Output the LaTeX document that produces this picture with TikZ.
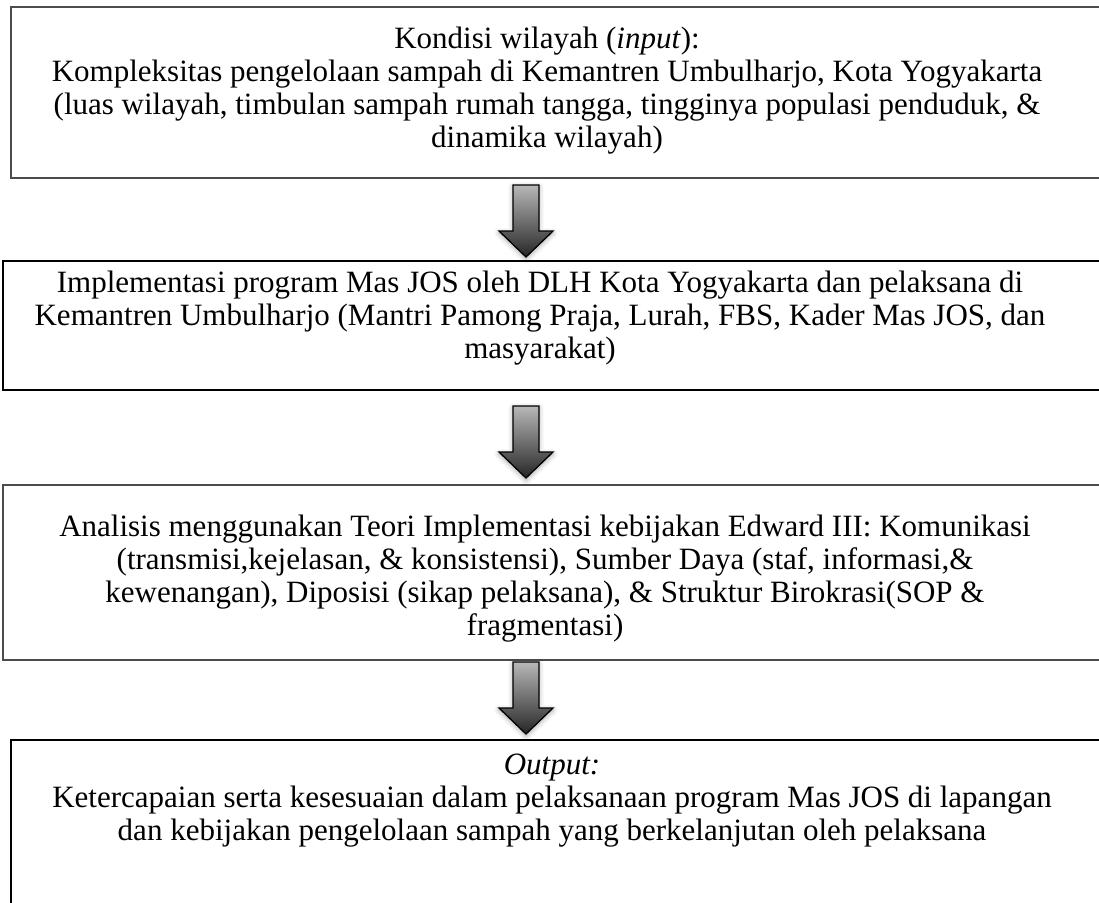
\documentclass[tikz,border=0pt]{standalone}
\usepackage{fontspec}
\setmainfont{Liberation Serif}
\usetikzlibrary{shadows.blur}
\tikzset{
  boxgray/.style={draw=black!70, line width=1.8pt, inner sep=0pt, outer sep=0pt},
  boxblack/.style={draw=black, line width=1.4pt, inner sep=0pt, outer sep=0pt},
  txt/.style={align=center, inner sep=0pt, font=\fontsize{31}{33}\selectfont},
  pics/blockdown/.style={code={
    \path[blur shadow={shadow xshift=0pt, shadow yshift=-2pt, shadow blur radius=5pt, shadow opacity=35},
          draw=black, line width=1.3pt, line join=miter, top color=black!28, bottom color=black!85]
      (-13,0) -- (13,0) -- (13,46) -- (27,46) -- (0,72) -- (-27,46) -- (-13,46) -- cycle;
  }}
}
\begin{document}
\begin{tikzpicture}[x=1pt, y=-1pt]
\useasboundingbox (0,0) rectangle (1099,902);
\clip (0,0) rectangle (1099,902);
% boxes
\node[boxgray, minimum width=1110pt, minimum height=171pt] (b1) at (566,92.5) {};
\node[boxblack, minimum width=1110pt, minimum height=129pt] (b2) at (558,325.5) {};
\node[boxgray, minimum width=1110pt, minimum height=175pt] (b3) at (558,572.5) {};
\node[boxblack, minimum width=1110pt, minimum height=240pt] (b4) at (566,860) {};
% texts
\node[txt, anchor=north] (t1) at (547,27) {Kondisi wilayah (\textit{input}):\\
Kompleksitas pengelolaan sampah di Kemantren Umbulharjo, Kota Yogyakarta\\
(luas wilayah, timbulan sampah rumah tangga, tingginya populasi penduduk, \&\\
dinamika wilayah)};
\node[txt, anchor=north] (t2) at (540,271) {Implementasi program Mas JOS oleh DLH Kota Yogyakarta dan pelaksana di\\
Kemantren Umbulharjo (Mantri Pamong Praja, Lurah, FBS, Kader Mas JOS, dan\\
masyarakat)};
\node[txt, anchor=north] (t3) at (545,515) {Analisis menggunakan Teori Implementasi kebijakan Edward III: Komunikasi\\
(transmisi,kejelasan, \& konsistensi), Sumber Daya (staf, informasi,\&\\
kewenangan), Diposisi (sikap pelaksana), \& Struktur Birokrasi(SOP \&\\
fragmentasi)};
\node[txt, anchor=north] (t4) at (552,754) {\textit{Output:}\\
Ketercapaian serta kesesuaian dalam pelaksanaan program Mas JOS di lapangan\\
dan kebijakan pengelolaan sampah yang berkelanjutan oleh pelaksana};
% arrows between boxes
\coordinate (ax) at (526,0);
\pic at ($(b1.south -| ax)+(0,7)$) {blockdown};
\pic at ($(b2.south -| ax)+(0,16)$) {blockdown};
\pic at ($(b3.south -| ax)+(0,2)$) {blockdown};
\end{tikzpicture}
\end{document}
